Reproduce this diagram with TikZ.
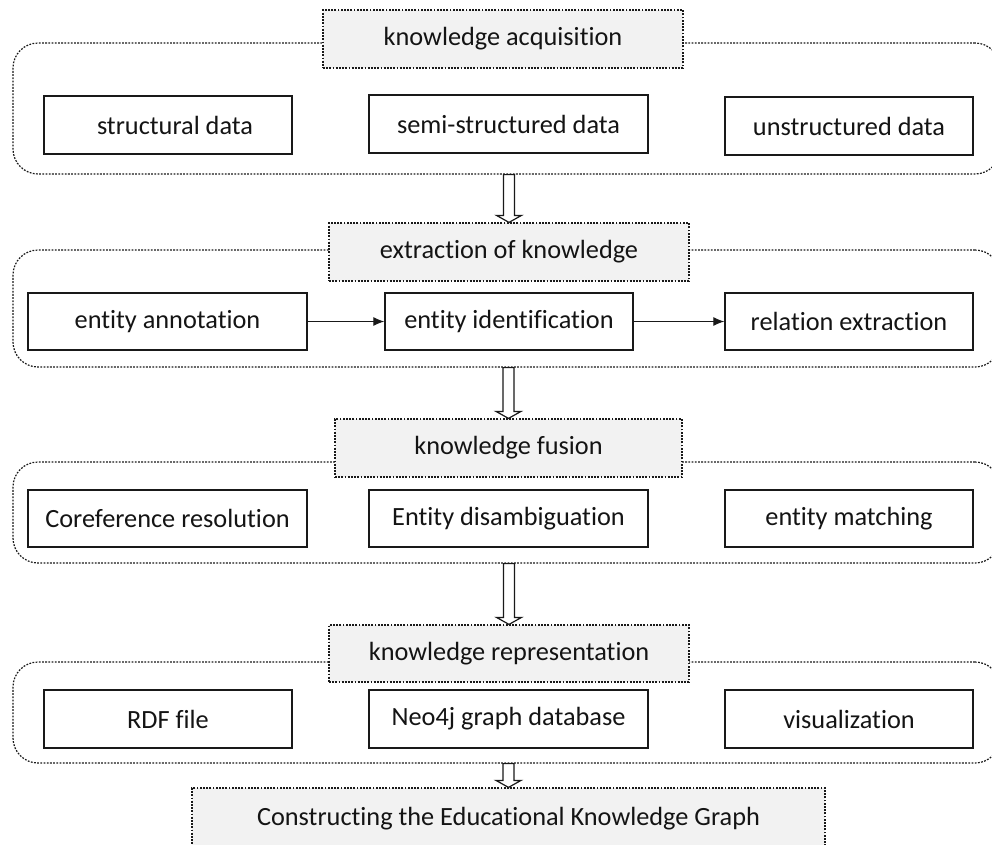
\documentclass[tikz,border=0pt]{standalone}
\usepackage{fontspec}
\setmainfont[Ligatures={NoCommon,NoContextual}]{Carlito}
\usetikzlibrary{arrows.meta,calc}
\begin{document}
\begin{tikzpicture}[x=1pt,y=-1pt,
  every node/.style={font=\fontsize{26.3}{30}\selectfont, text=black!92, inner sep=0pt},
  container/.style={draw=black!90, line width=1.2pt, rounded corners=25pt, dash pattern=on 1.8pt off 1.4pt},
  titlebox/.style={draw=black!90, line width=1.2pt, dash pattern=on 1.8pt off 1.4pt, fill=gray!10},
  databox/.style={draw=black!90, line width=1.4pt, fill=white},
  flow/.style={-{Latex[length=11pt,width=9pt]}, line width=1pt, draw=black!90},
  blockarrow/.style={draw=black!90, line width=1.2pt, fill=white,
    to path={let \p1=(\tikztostart), \p2=(\tikztotarget) in
      (\x1-5.5pt,\y1) -- (\x1-5.5pt,\y2+7pt) -- (\x1-12.5pt,\y2+7pt) -- (\x1,\y2)
      -- (\x1+12.5pt,\y2+7pt) -- (\x1+5.5pt,\y2+7pt) -- (\x1+5.5pt,\y1) -- cycle}}
]
\useasboundingbox (0,0) rectangle (992,844);
\clip (0,0) rectangle (992,844);

% containers
\node[container, minimum width=987pt, minimum height=131pt] (c1) at (506.5,108.5) {};
\node[container, minimum width=987pt, minimum height=117pt] (c2) at (506.5,308.5) {};
\node[container, minimum width=987pt, minimum height=101pt] (c3) at (506.5,512.5) {};
\node[container, minimum width=987pt, minimum height=101pt] (c4) at (506.5,712.5) {};

% title boxes
\node[titlebox, minimum width=360pt, minimum height=58pt] (t1) at (503,39) {knowledge acquisition};
\node[titlebox, minimum width=360pt, minimum height=58pt] (t2) at (509,252) {extraction of knowledge};
\node[titlebox, minimum width=347pt, minimum height=58pt] (t3) at (508.5,448) {knowledge fusion};
\node[titlebox, minimum width=360pt, minimum height=57pt] (t4) at (509,653.5) {knowledge representation};
\node[titlebox, minimum width=633pt, minimum height=62pt] (t5) at (508.5,819) {Constructing the Educational Knowledge Graph};

% row 1
\node[databox, minimum width=248pt, minimum height=58pt] (a1) at (168,125) {\hspace*{14pt}structural data};
\node[databox, minimum width=279pt, minimum height=58pt] (a2) at (508.5,124) {semi-structured data};
\node[databox, minimum width=248pt, minimum height=58pt] (a3) at (849,126) {unstructured data};

% row 2
\node[databox, minimum width=279pt, minimum height=57pt] (b1) at (167.5,321.5) {entity annotation};
\node[databox, minimum width=248pt, minimum height=57pt] (b2) at (509,321.5) {entity identification};
\node[databox, minimum width=248pt, minimum height=57pt] (b3) at (849,321.5) {relation extraction};

% row 3
\node[databox, minimum width=279pt, minimum height=57pt] (d1) at (167.5,518.5) {Coreference resolution};
\node[databox, minimum width=279pt, minimum height=57pt] (d2) at (508.5,518.5) {Entity disambiguation};
\node[databox, minimum width=248pt, minimum height=57pt] (d3) at (849,518.5) {entity matching};

% row 4
\node[databox, minimum width=248pt, minimum height=58pt] (e1) at (168,719) {RDF file};
\node[databox, minimum width=279pt, minimum height=58pt] (e2) at (508.5,719) {Neo4j graph database};
\node[databox, minimum width=248pt, minimum height=58pt] (e3) at (849,719) {visualization};

% flow arrows
\draw[flow] (b1) -- (b2);
\draw[flow] (b2) -- (b3);

% block arrows
\path[blockarrow] (c1.south -| t2.north) to (t2.north);
\path[blockarrow] (c2.south -| t3.north) to (t3.north);
\path[blockarrow] (c3.south -| t4.north) to (t4.north);
\path[blockarrow] (c4.south -| t5.north) to (t5.north);
\end{tikzpicture}
\end{document}
